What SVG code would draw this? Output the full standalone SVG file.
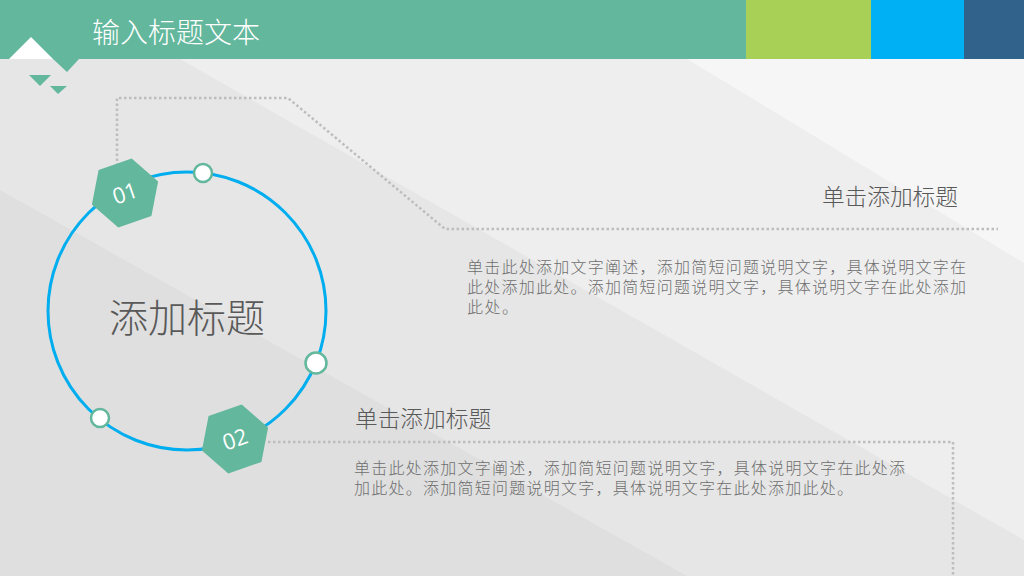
<svg xmlns="http://www.w3.org/2000/svg" width="1024" height="576" viewBox="0 0 1024 576">
<style>
.hex{fill:#62b79c}
.hext{fill:#fff;font-family:"Open Sans","Noto Sans",sans-serif;font-size:22px;text-anchor:middle}
.dot{fill:none;stroke:#bdbdbd;stroke-width:2.5;stroke-dasharray:2.5 2.5}
.knob{fill:#fff;stroke:#62b79c;stroke-width:2.5}
.ttl{fill:#595959;font-family:"Noto Sans CJK SC",sans-serif;font-size:22.7px;font-weight:300}
.para{fill:#6e6e6e;font-family:"Liberation Sans","Noto Sans CJK SC",sans-serif;font-size:16px;font-weight:300}
</style>
<defs>
<polygon id="hexshape" points="33.1,-11.4 26.4,23 -6.7,34.4 -33.1,11.4 -26.4,-23 6.7,-34.4"/>
</defs>
<g id="background">
<rect x="0" y="0" width="1024" height="576" fill="#e6e6e6"/>
<polygon points="180,59 1024,59 1024,540" fill="#eeeeee"/>
<polygon points="687,59 1024,59 1024,263" fill="#f6f6f6"/>
<polygon points="0,190 687,576 0,576" fill="#dfdfdf"/>
</g>
<g id="header">
<rect x="0" y="0" width="746" height="59" fill="#62b79c"/>
<rect x="746" y="0" width="125" height="59" fill="#a8d056"/>
<rect x="871" y="0" width="93" height="59" fill="#00b0f5"/>
<rect x="964" y="0" width="60" height="59" fill="#30628c"/>
<polygon points="9,59 31,37 53,59" fill="#ffffff"/>
<polygon points="53,59 79,59 67,72" fill="#62b79c"/>
<polygon points="29,75 51,75 40,86" fill="#62b79c"/>
<polygon points="50,86 67,86 58,94" fill="#62b79c"/>
<text x="92" y="43" fill="#ffffff" font-family="'Noto Sans CJK SC',sans-serif" font-size="28" font-weight="300">输入标题文本</text>
</g>
<g id="connectors">
<path class="dot" d="M117,166 V98 H288 L445,229 H998"/>
<path class="dot" d="M268,442 H953 V576"/>
</g>
<g id="ring">
<circle cx="187" cy="311" r="139" fill="none" stroke="#00aeef" stroke-width="3"/>
<circle class="knob" cx="203" cy="173" r="9"/>
<circle class="knob" cx="316" cy="363" r="10.5"/>
<circle class="knob" cx="100" cy="418" r="9"/>
<text x="187" y="332" fill="#595959" font-family="'Noto Sans CJK SC',sans-serif" font-size="39" font-weight="300" text-anchor="middle">添加标题</text>
</g>
<g id="node01">
<use href="#hexshape" class="hex" transform="translate(125,193)"/>
<text class="hext" transform="translate(125,193) rotate(-19)" x="0" y="8">01</text>
</g>
<g id="node02">
<use href="#hexshape" class="hex" transform="translate(235,439)"/>
<text class="hext" transform="translate(235,439) rotate(-19)" x="0" y="8">02</text>
</g>
<g id="item1">
<text class="ttl" x="958" y="205" text-anchor="end">单击添加标题</text>
<text class="para"><tspan x="467" y="273" textLength="499" lengthAdjust="spacing">单击此处添加文字阐述，添加简短问题说明文字，具体说明文字在</tspan><tspan x="467" y="293" textLength="499" lengthAdjust="spacing">此处添加此处。添加简短问题说明文字，具体说明文字在此处添加</tspan><tspan x="467" y="313" textLength="51" lengthAdjust="spacing">此处。</tspan></text>
</g>
<g id="item2">
<text class="ttl" x="355" y="427">单击添加标题</text>
<text class="para"><tspan x="354" y="474" textLength="551" lengthAdjust="spacing">单击此处添加文字阐述，添加简短问题说明文字，具体说明文字在此处添</tspan><tspan x="354" y="494" textLength="499" lengthAdjust="spacing">加此处。添加简短问题说明文字，具体说明文字在此处添加此处。</tspan></text>
</g>
</svg>
